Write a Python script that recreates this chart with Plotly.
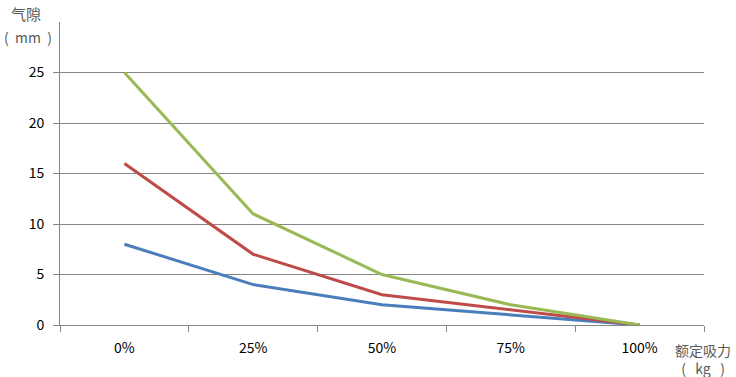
import plotly.graph_objects as go

categories = ["0%", "25%", "50%", "75%", "100%"]
series_names = ["系列1", "系列2", "系列3"]
blue_vals = [8, 4, 2, 1, 0]
red_vals = [16, 7, 3, 1.5, 0]
green_vals = [25, 11, 5, 2, 0]
y_ticks = [0, 5, 10, 15, 20, 25]

colors = ["#4A7EBB", "#BE4B48", "#98B954"]
font_cjk = "Microsoft YaHei, Noto Sans CJK SC, sans-serif"

W, H = 736, 377
L, R, T, B = 60, 32, 22, 52
PW, PH = W - L - R, H - T - B

fig = go.Figure()
for name, vals, c in zip(series_names, [blue_vals, red_vals, green_vals], colors):
    fig.add_trace(go.Scatter(x=categories, y=vals, mode="lines", name=name,
                             line=dict(color=c, width=3)))

fig.update_layout(
    width=W, height=H,
    margin=dict(l=L, r=R, t=T, b=B, autoexpand=False),
    paper_bgcolor="white", plot_bgcolor="white",
    showlegend=False,
    font=dict(family=font_cjk, size=14, color="#000000"),
    xaxis=dict(type="category", tickson="boundaries", ticks="outside", ticklen=6,
               tickcolor="#868686", showline=True, linecolor="#868686", linewidth=1,
               showgrid=False, range=[-0.5, 4.5], ticklabelstandoff=10,
               tickfont=dict(size=14, color="#000000")),
    yaxis=dict(range=[0, 30], tickvals=y_ticks, ticks="outside", ticklen=6,
               tickcolor="#868686", showline=True, linecolor="#868686", linewidth=1,
               showgrid=True, gridcolor="#868686", gridwidth=1, zeroline=False,
               ticklabelstandoff=6, tickfont=dict(size=14, color="#000000")),
)

anns = [
    dict(text="气隙", x=26, y=14, size=15),
    dict(text="(  mm  )", x=28, y=37, size=14),
    dict(text="额定吸力<br>(   kg   )", x=703, y=359, size=14),
]
for a in anns:
    fig.add_annotation(text=a["text"], x=(a["x"] - L) / PW, y=(H - B - a["y"]) / PH,
                       xref="paper", yref="paper", showarrow=False,
                       xanchor="center", yanchor="middle", align="center",
                       font=dict(family=font_cjk, size=a["size"], color="#595959"))

fig.write_html("out.html", config={"displayModeBar": False},
               post_script="document.body.style.margin='0';document.body.style.padding='0';")
